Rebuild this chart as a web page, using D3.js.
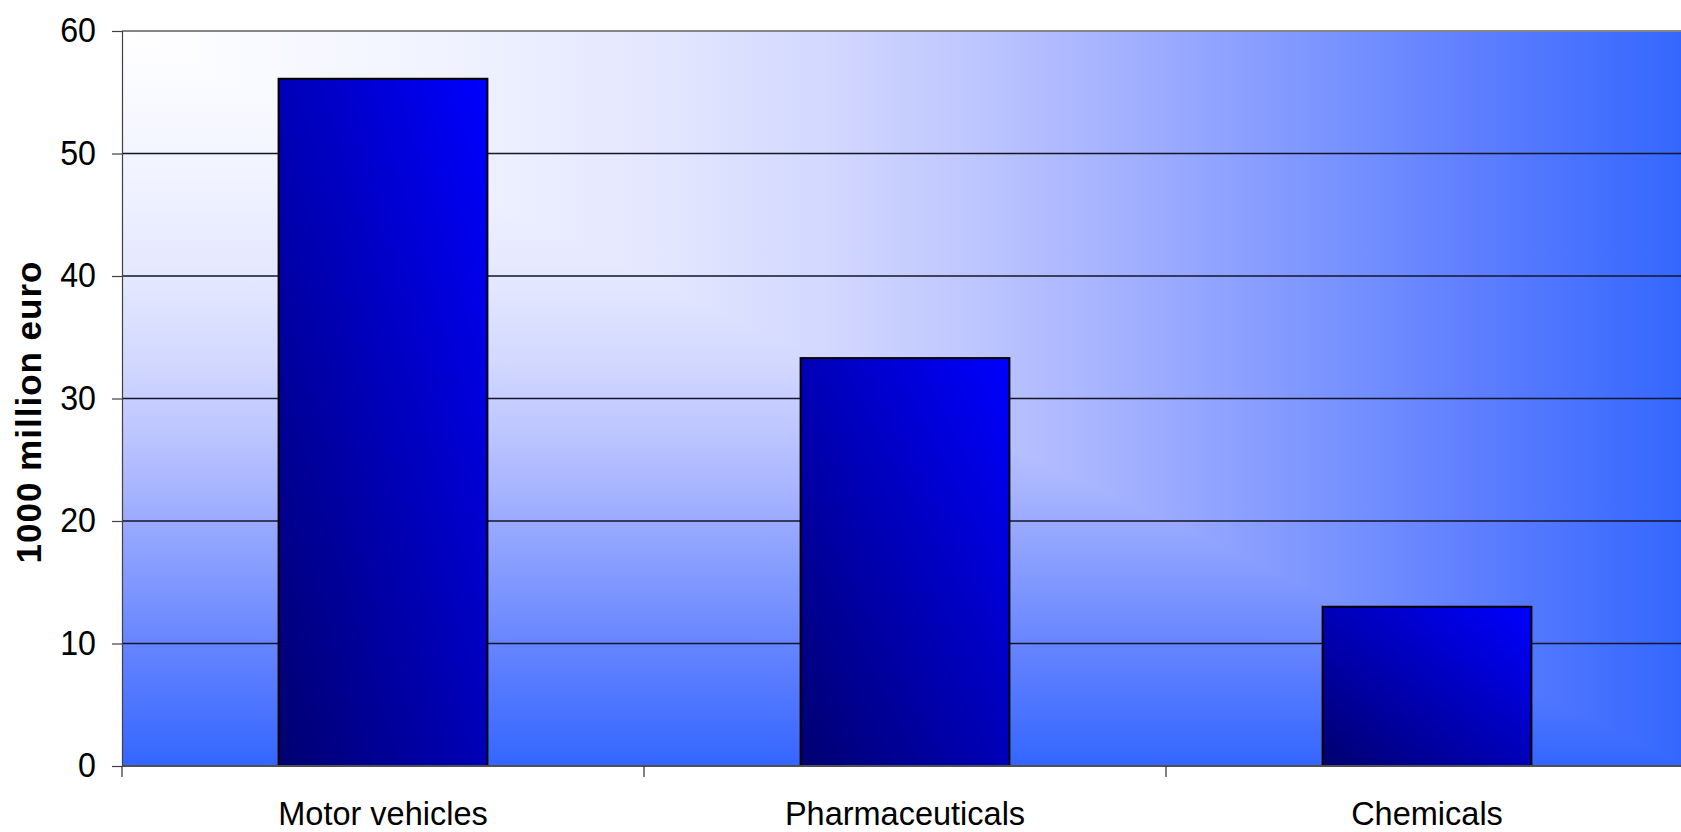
<!DOCTYPE html>
<html>
<head>
<meta charset="utf-8">
<script src="https://cdn.jsdelivr.net/npm/d3@7"></script>
<style>
  html, body { margin: 0; padding: 0; background: #fff; overflow: hidden; }
  svg { display: block; }
</style>
</head>
<body>
<svg id="chart" width="1681" height="832"></svg>
<script>
// ---- data ----
const categories = ["Motor vehicles", "Pharmaceuticals", "Chemicals"];
const values = [56.1, 33.3, 13.0];
const yTicks = [0, 10, 20, 30, 40, 50, 60];
const yLabel = "1000 million euro";

// ---- layout ----
const pLeft = 122, pTop = 31, pBottom = 766, pRight = 1688;
const tickSqueeze = 0.92;
const labelFont = "'Liberation Sans', Arial, sans-serif";

const svg = d3.select("#chart");
const defs = svg.append("defs");

const x = d3.scaleBand().domain(categories).range([pLeft, pRight]).paddingInner(0.6).paddingOuter(0.3);
const xCat = d3.scaleBand().domain(categories).range([pLeft, pRight]).padding(0);
const y = d3.scaleLinear().domain([0, 60]).range([pBottom, pTop]);

// background gradient ("from corner" style: colour depends on max(u, v))
const bgStops = [
  [0.00, "#ffffff"], [0.20, "#f1f3ff"], [0.35, "#e2e6ff"], [0.45, "#d2d8ff"],
  [0.55, "#bcc5ff"], [0.65, "#a0aeff"], [0.75, "#8098ff"], [0.87, "#5c7dff"], [1.00, "#3366ff"]
];
function mkGrad(id, x1, y1, x2, y2) {
  const g = defs.append("linearGradient").attr("id", id)
    .attr("gradientUnits", "userSpaceOnUse")
    .attr("x1", x1).attr("y1", y1).attr("x2", x2).attr("y2", y2);
  bgStops.forEach(s => g.append("stop").attr("offset", s[0]).attr("stop-color", s[1]));
}
mkGrad("bgH", pLeft, 0, pRight, 0);
mkGrad("bgV", 0, pTop, 0, pBottom);

svg.append("rect").attr("x", pLeft).attr("y", pTop)
  .attr("width", pRight - pLeft).attr("height", pBottom - pTop)
  .attr("fill", "url(#bgH)");
svg.append("path")
  .attr("d", `M${pLeft},${pTop} L${pRight},${pBottom} L${pLeft},${pBottom} Z`)
  .attr("fill", "url(#bgV)");

// bar gradient
const bg = defs.append("linearGradient").attr("id", "barG")
  .attr("x1", 0).attr("y1", 1).attr("x2", 1).attr("y2", 0);
bg.append("stop").attr("offset", 0).attr("stop-color", "#000070");
bg.append("stop").attr("offset", 1).attr("stop-color", "#0000ff");

// gridlines
svg.append("g").selectAll("line")
  .data(yTicks.filter(d => d > 0 && d < 60))
  .join("line")
  .attr("x1", pLeft).attr("x2", pRight)
  .attr("y1", d => y(d)).attr("y2", d => y(d))
  .attr("stroke", "#15152a").attr("stroke-width", 1.4);

// top border
svg.append("line").attr("x1", pLeft).attr("x2", pRight)
  .attr("y1", y(60)).attr("y2", y(60))
  .attr("stroke", "#858585").attr("stroke-width", 2);

// bars
svg.append("g").selectAll("rect")
  .data(categories.map((c, i) => ({c, v: values[i]})))
  .join("rect")
  .attr("x", d => x(d.c))
  .attr("width", x.bandwidth())
  .attr("y", d => y(d.v))
  .attr("height", d => y(0) - y(d.v))
  .attr("fill", "url(#barG)")
  .attr("stroke", "#000").attr("stroke-width", 2);

// y axis
const yAxis = d3.axisLeft(y).tickValues(yTicks).tickSize(10).tickPadding(16).tickFormat(d3.format("d"));
const gy = svg.append("g").attr("transform", `translate(${pLeft},0)`).call(yAxis);
gy.select(".domain").attr("stroke", "#404040").attr("stroke-width", 1.2);
gy.selectAll(".tick line").attr("stroke", "#404040").attr("stroke-width", 1.2);
gy.selectAll(".tick text")
  .attr("font-family", labelFont)
  .attr("font-size", 35).attr("fill", "#000")
  .attr("x", -26 / tickSqueeze)
  .attr("transform", `scale(${tickSqueeze},1)`)
  .attr("dy", "0.31em");

// x axis
const xAxis = d3.axisBottom(xCat).tickSize(0).tickPadding(0);
const gx = svg.append("g").attr("transform", `translate(0,${pBottom})`).call(xAxis);
gx.select(".domain").remove();
gx.selectAll(".tick text")
  .attr("font-family", labelFont)
  .attr("font-size", 32.5).attr("fill", "#000")
  .attr("y", 59).attr("dy", 0);

svg.append("line").attr("x1", pLeft).attr("x2", pRight)
  .attr("y1", y(0)).attr("y2", y(0))
  .attr("stroke", "#505050").attr("stroke-width", 2);

const bounds = categories.map(c => xCat(c)).concat([xCat(categories[categories.length - 1]) + xCat.bandwidth()]);
svg.append("g").selectAll("line").data(bounds).join("line")
  .attr("x1", d => d).attr("x2", d => d)
  .attr("y1", y(0)).attr("y2", y(0) + 11)
  .attr("stroke", "#303030").attr("stroke-width", 1.2);

// y label
svg.append("text")
  .attr("transform", `translate(41,412) rotate(-90)`)
  .attr("text-anchor", "middle")
  .attr("font-family", labelFont)
  .attr("font-weight", "bold").attr("font-size", 35).attr("letter-spacing", 1)
  .attr("fill", "#000")
  .text(yLabel);
</script>
</body>
</html>
